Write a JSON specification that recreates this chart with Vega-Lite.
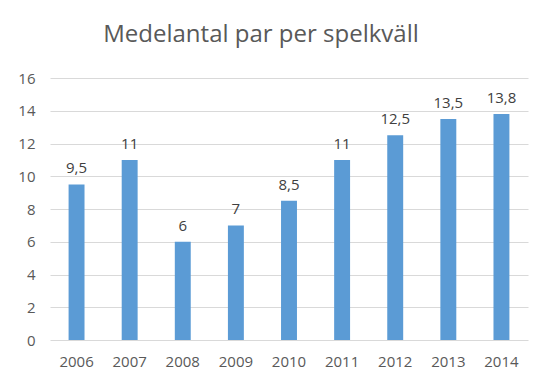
{
  "$schema": "https://vega.github.io/schema/vega-lite/v6.json",
  "width": 478,
  "height": 262,
  "autosize": {"type": "none"},
  "padding": {"left": 50, "top": 78, "right": 24, "bottom": 50},
  "background": "white",
  "config": {
    "locale": {"number": {"decimal": ",", "thousands": " ", "grouping": [3], "currency": ["", " kr"]}},
    "view": {"stroke": null},
    "font": "Open Sans"
  },
  "title": {
    "text": "Medelantal par per spelkväll",
    "fontSize": 24,
    "font": "Open Sans",
    "fontWeight": "normal",
    "color": "#595959",
    "anchor": "middle",
    "dx": -28,
    "offset": 24
  },
  "data": {
    "values": [
      {"year": "2006", "value": 9.5},
      {"year": "2007", "value": 11},
      {"year": "2008", "value": 6},
      {"year": "2009", "value": 7},
      {"year": "2010", "value": 8.5},
      {"year": "2011", "value": 11},
      {"year": "2012", "value": 12.5},
      {"year": "2013", "value": 13.5},
      {"year": "2014", "value": 13.8}
    ]
  },
  "encoding": {
    "x": {
      "field": "year",
      "type": "ordinal",
      "title": null,
      "scale": {"paddingInner": 0.7, "paddingOuter": 0.35},
      "axis": {
        "labelAngle": 0,
        "labelFontSize": 15,
        "labelColor": "#595959",
        "labelPadding": 14,
        "domain": false,
        "ticks": false
      }
    },
    "y": {
      "field": "value",
      "type": "quantitative",
      "title": null,
      "scale": {"domain": [0, 16]},
      "axis": {
        "values": [0, 2, 4, 6, 8, 10, 12, 14, 16],
        "labelFontSize": 15,
        "labelColor": "#595959",
        "labelPadding": 15,
        "domain": false,
        "ticks": false,
        "gridColor": "#d9d9d9",
        "gridWidth": 1
      }
    }
  },
  "layer": [
    {"mark": {"type": "bar", "color": "#5b9bd5"}},
    {
      "mark": {"type": "text", "baseline": "bottom", "dy": -8, "fontSize": 15, "color": "#404040"},
      "encoding": {"text": {"field": "value", "type": "quantitative", "format": "~g"}}
    }
  ]
}
